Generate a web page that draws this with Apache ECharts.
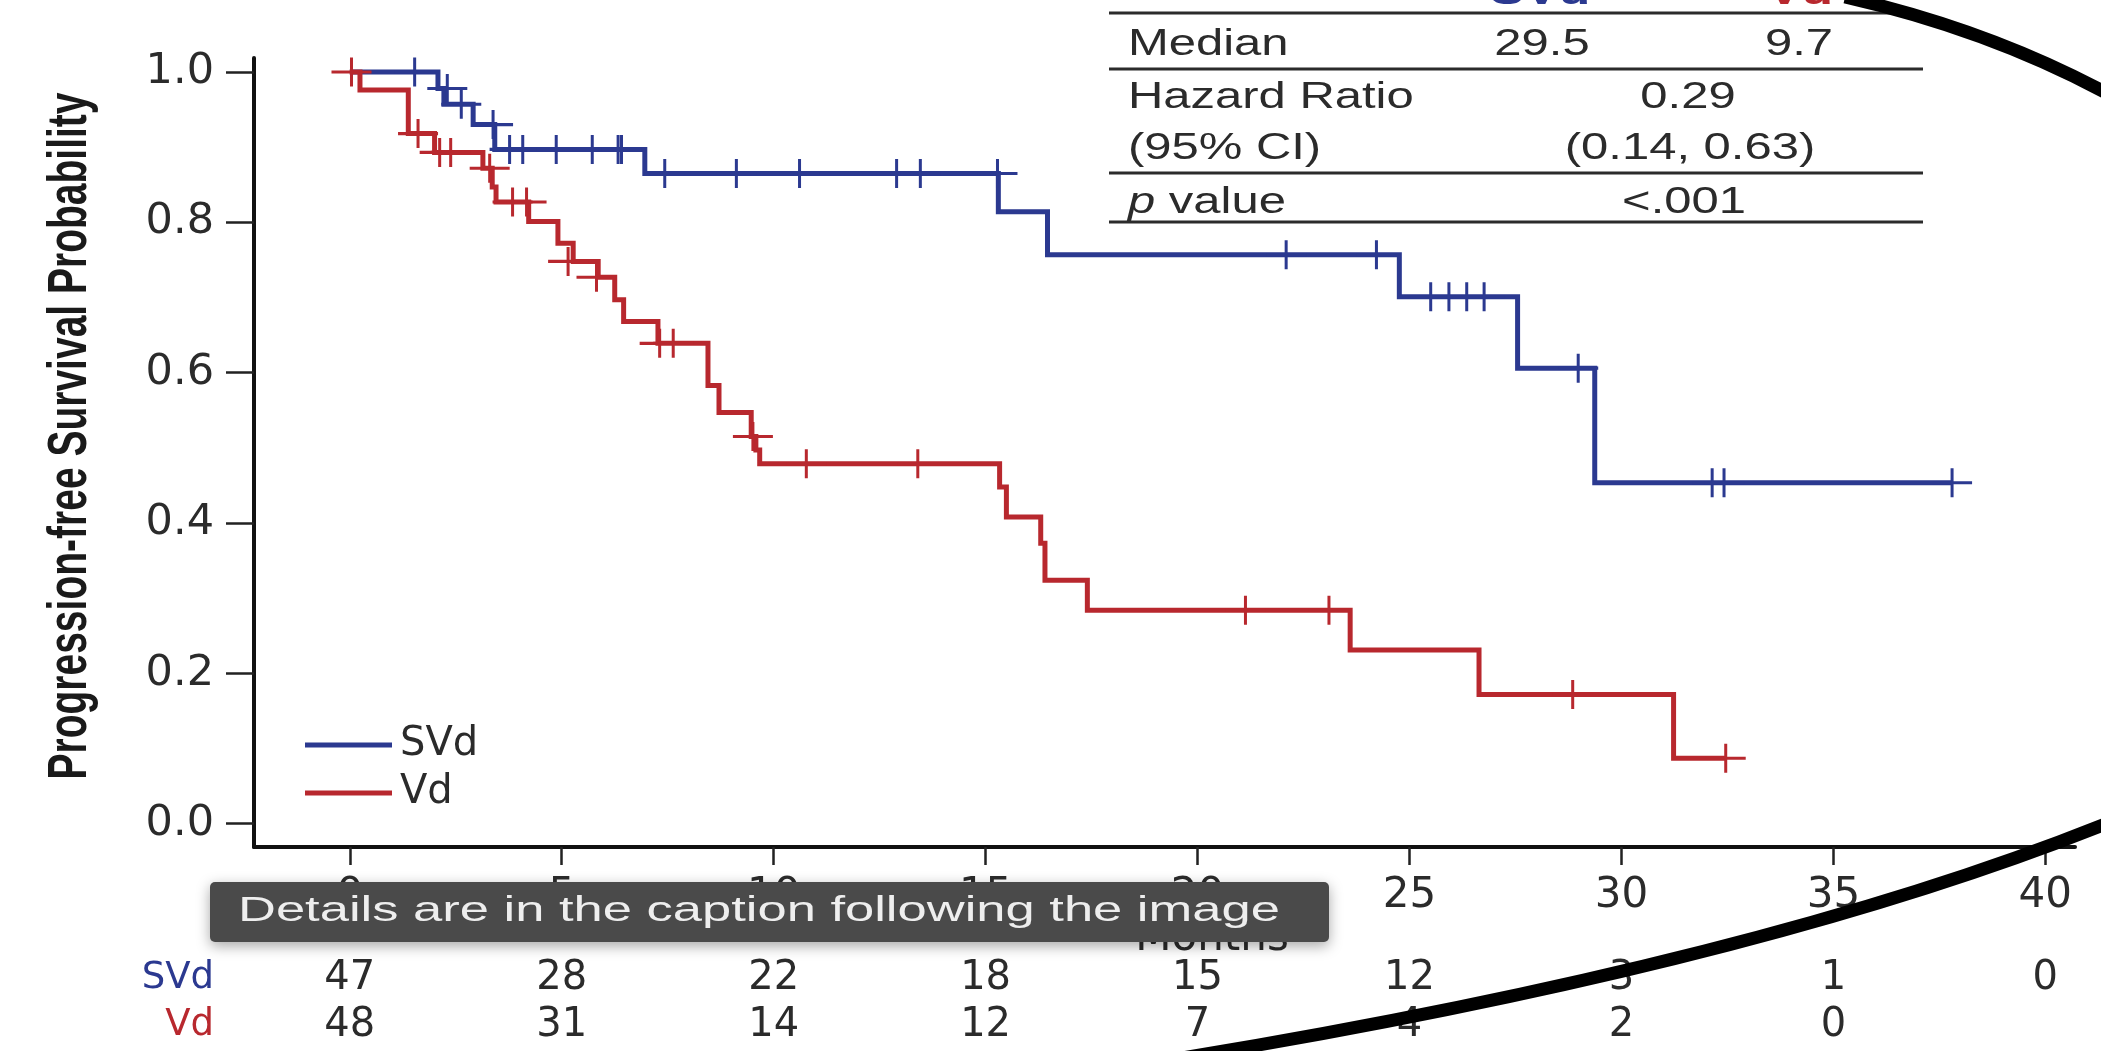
<!DOCTYPE html>
<html>
<head>
<meta charset="utf-8">
<title>Progression-free survival, SVd vs Vd</title>
<script src="https://cdn.jsdelivr.net/npm/echarts@6/dist/echarts.min.js"></script>
<style>
  html, body { margin: 0; padding: 0; background: #fff; }
  #main { width: 2101px; height: 1051px; }
</style>
</head>
<body>
<div id="main"></div>
<script>
// Kaplan-Meier steps: time in months, survival after the step
const svdTime = [0, 2.08, 2.22, 2.91, 3.42, 6.96, 15.3, 16.46, 24.76, 27.55, 29.37, 37.8];
const svdSurv = [1.0, 0.978, 0.957, 0.93, 0.897, 0.865, 0.814, 0.757, 0.701, 0.606, 0.4535, 0.4535];
const vdTime = [0, 0.24, 1.38, 2.0, 3.14, 3.36, 3.45, 4.22, 4.91, 5.27, 5.86, 6.25, 6.46, 7.27,
  8.45, 8.71, 9.47, 9.58, 9.67, 15.33, 15.49, 16.3, 16.4, 17.4, 23.6, 26.64, 31.23, 32.46];
const vdSurv = [1.0, 0.976, 0.918, 0.893, 0.872, 0.847, 0.827, 0.801, 0.772, 0.748, 0.727, 0.697, 0.668, 0.639,
  0.583, 0.547, 0.515, 0.497, 0.479, 0.448, 0.408, 0.373, 0.324, 0.284, 0.231, 0.172, 0.087, 0.087];

// censored patients (+ marks)
const svdCensorTime = [1.53, 2.3, 2.63, 3.38, 3.77, 4.08, 4.87, 5.72, 6.33, 6.41, 7.43, 9.12, 10.61,
  12.9, 13.46, 15.28, 22.09, 24.22, 25.5, 25.93, 26.35, 26.76, 28.98, 32.14, 32.42, 37.8];
const svdCensorSurv = [1.0, 0.978, 0.957, 0.93, 0.897, 0.897, 0.897, 0.897, 0.897, 0.897, 0.865, 0.865, 0.865,
  0.865, 0.865, 0.865, 0.757, 0.757, 0.701, 0.701, 0.701, 0.701, 0.606, 0.4535, 0.4535, 0.4535];
const vdCensorTime = [0.04, 1.61, 2.12, 2.38, 3.3, 3.84, 4.17, 5.15, 5.82, 7.31, 7.63, 9.51,
  10.77, 13.4, 21.13, 23.1, 28.85, 32.46];
const vdCensorSurv = [1.0, 0.918, 0.893, 0.893, 0.872, 0.827, 0.827, 0.748, 0.727, 0.639, 0.639, 0.515,
  0.479, 0.479, 0.284, 0.284, 0.172, 0.087];

// numbers at risk
const riskTimes = [0, 5, 10, 15, 20, 25, 30, 35, 40];
const riskSVd = [47, 28, 22, 18, 15, 12, 3, 1, 0];
const riskVd = [48, 31, 14, 12, 7, 4, 2, 0];

const xTicks = [0, 5, 10, 15, 20, 25, 30, 35, 40];
const yTicks = [0, 0.2, 0.4, 0.6, 0.8, 1.0];

// summary table
const tableLabels = ['Median', 'Hazard Ratio', '(95% CI)', '{i|p} value'];
const medianSVd = '29.5';
const medianVd = '9.7';
const hazardRatio = '0.29';
const hazardCI = '(0.14, 0.63)';
const pValue = '<.001';

const BLUE = '#2b3990';
const RED = '#b8282e';
const INK = '#2b2b2b';
const FONT = 'DejaVu Sans';
const PLUS = 'path://M18.5,0H21.5V28H18.5Z M0,12.5H40V15.5H0Z';

const chart = echarts.init(document.getElementById('main'));

function km(name, times, survs, color, z) {
  return {
    name: name, type: 'line', step: 'end', symbol: 'none', z: z, color: color,
    itemStyle: { color: color },
    lineStyle: { color: color, width: 5, join: 'miter', cap: 'butt' },
    emphasis: { disabled: true },
    data: times.map((t, i) => [t, survs[i]])
  };
}
function censors(name, times, survs, color, z) {
  return {
    name: name, type: 'scatter', symbol: PLUS, symbolSize: [40, 29], z: z,
    itemStyle: { color: color, opacity: 1 },
    emphasis: { disabled: true },
    data: times.map((t, i) => [t, survs[i]])
  };
}
function risk(name, counts) {
  return {
    name: name + ' at risk', type: 'scatter', xAxisIndex: 1, yAxisIndex: 1,
    symbolSize: 1, itemStyle: { color: 'rgba(0,0,0,0)' },
    label: {
      show: true, position: 'inside', formatter: p => String(p.value[2]),
      fontSize: 40, fontFamily: FONT, color: INK, opacity: 1
    },
    emphasis: { disabled: true },
    data: counts.map((n, i) => [riskTimes[i], name, n])
  };
}
// stretched text, the figure is widened sideways
function txt(text, x, y, o) {
  o = o || {};
  return {
    type: 'text', x: x, y: y, z: o.z || 50,
    scaleX: o.sx || 1.36, scaleY: o.sy || 1, rotation: o.rot || 0,
    style: {
      text: text, fill: o.color || INK,
      fontSize: o.size || 36, fontFamily: 'Liberation Sans', fontWeight: o.weight || 'normal',
      textAlign: o.align || 'left', align: o.align || 'left',
      textVerticalAlign: 'middle', verticalAlign: 'middle',
      rich: { i: { fontStyle: 'italic', fontSize: o.size || 36, fontFamily: 'Liberation Sans', fill: o.color || INK } }
    }
  };
}
function rule(y) {
  return { type: 'line', z: 50, shape: { x1: 1109, y1: y, x2: 1923, y2: y }, style: { stroke: '#2b2b2b', lineWidth: 3 } };
}

const option = {
  animation: false,
  backgroundColor: '#fff',
  textStyle: { fontFamily: FONT },
  grid: [
    { left: 254, right: 26, top: 58, bottom: 204 },
    { left: 254, right: 26, top: 954.5, height: 95 }
  ],
  legend: {
    data: ['SVd', 'Vd'], orient: 'vertical', left: 305, top: 724,
    icon: 'rect', itemWidth: 87, itemHeight: 5, itemGap: 6, selectedMode: false, padding: 0,
    textStyle: { fontSize: 40, fontFamily: FONT, color: INK, lineHeight: 42, padding: [0, 0, 0, 3] }
  },
  xAxis: [
    {
      type: 'value', min: -2.26, max: 40.7,
      name: 'Months', nameLocation: 'middle', nameGap: 71, nameMoveOverlap: false,
      nameTextStyle: { fontSize: 42, fontFamily: FONT, color: INK, padding: [0, 0, 0, 95] },
      splitLine: { show: false },
      axisLine: { onZero: false, lineStyle: { color: '#111', width: 4 } },
      axisTick: { customValues: xTicks, length: 18, lineStyle: { color: '#222', width: 2.5 } },
      axisLabel: { customValues: xTicks, fontSize: 42, fontFamily: FONT, color: INK, margin: 28 }
    },
    { type: 'value', gridIndex: 1, min: -2.26, max: 40.7, show: false }
  ],
  yAxis: [
    {
      type: 'value', min: -0.031, max: 1.0186,
      splitLine: { show: false },
      axisLine: { show: true, onZero: false, lineStyle: { color: '#111', width: 4 } },
      axisTick: { show: true, customValues: yTicks, length: 28, lineStyle: { color: '#222', width: 2.5 } },
      axisLabel: { customValues: yTicks, formatter: v => v.toFixed(1), fontSize: 43, fontFamily: FONT, color: INK, margin: 40 }
    },
    {
      type: 'category', gridIndex: 1, data: ['SVd', 'Vd'], inverse: true,
      axisLine: { show: false }, axisTick: { show: false }, splitLine: { show: false },
      axisLabel: { interval: 0, fontSize: 37, fontFamily: FONT, margin: 40, color: v => (v === 'SVd' ? BLUE : RED) }
    }
  ],
  series: [
    km('SVd', svdTime, svdSurv, BLUE, 3),
    censors('SVd censored', svdCensorTime, svdCensorSurv, BLUE, 4),
    km('Vd', vdTime, vdSurv, RED, 5),
    censors('Vd censored', vdCensorTime, vdCensorSurv, RED, 6),
    risk('SVd', riskSVd),
    risk('Vd', riskVd)
  ],
  graphic: [
    // y axis title
    txt('Progression-free Survival Probability', 71, 436, {
      rot: Math.PI / 2, size: 40, weight: 'bold', sx: 0.975, sy: 1.38, color: '#1a1a1a', align: 'center'
    }),
    // summary table
    rule(13), rule(69), rule(173), rule(222),
    txt('SVd', 1540, -6, { align: 'center', weight: 'bold', size: 38, color: BLUE }),
    txt('Vd', 1800, -6, { align: 'center', weight: 'bold', size: 38, color: RED }),
    txt(tableLabels[0], 1128, 45),
    txt(tableLabels[1], 1128, 98),
    txt(tableLabels[2], 1128, 149),
    txt(tableLabels[3], 1128, 203),
    txt(medianSVd, 1542, 45, { align: 'center' }),
    txt(medianVd, 1799, 45, { align: 'center' }),
    txt(hazardRatio, 1688, 98, { align: 'center' }),
    txt(hazardCI, 1690, 149, { align: 'center' }),
    txt(pValue, 1684, 203, { align: 'center' }),
    // caption overlay
    {
      type: 'rect', z: 100, shape: { x: 210, y: 882, width: 1119, height: 60, r: 5 },
      style: { fill: '#4a4a4a', shadowBlur: 14, shadowColor: 'rgba(0,0,0,0.35)', shadowOffsetY: 4 }
    },
    txt('Details are in the caption following the image', 238, 911, { z: 101, sx: 1.5, size: 35, color: '#eeeeee' }),
    // hand-drawn ellipse
    {
      type: 'bezierCurve', z: 120,
      shape: { x1: 1845, y1: -3, x2: 2110, y2: 95, cpx1: 1990, cpy1: 30 },
      style: { stroke: '#000', lineWidth: 13, fill: null }
    },
    {
      type: 'bezierCurve', z: 120,
      shape: { x1: 2115, y1: 820, x2: 1182, y2: 1058, cpx1: 1768, cpy1: 961 },
      style: { stroke: '#000', lineWidth: 13, fill: null }
    }
  ]
};

chart.setOption(option);
</script>
</body>
</html>
